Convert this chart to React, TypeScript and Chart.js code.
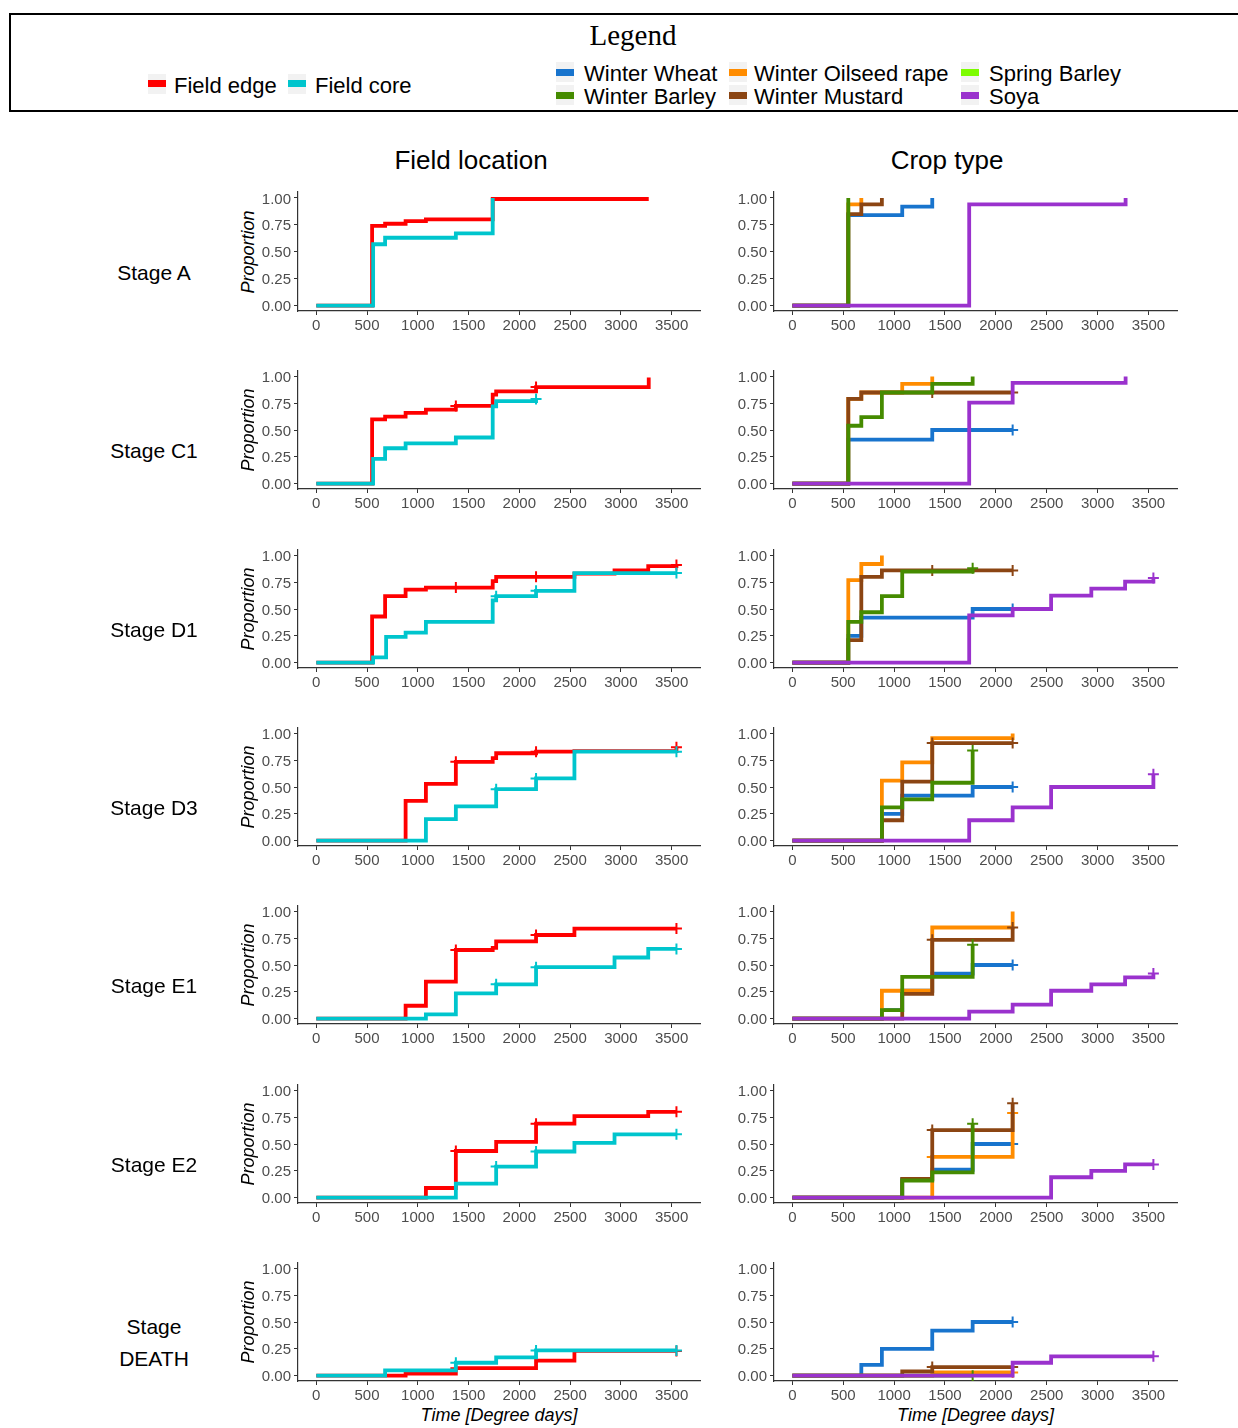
import React, { useEffect, useRef } from 'react';
import { Chart, registerables } from 'chart.js';
Chart.register(...registerables);

type Step = [number, number];

// ---------- axis ticks / labels ----------
const xTicks = [0, 500, 1000, 1500, 2000, 2500, 3000, 3500];
const yTicks = [0, 0.25, 0.5, 0.75, 1];
const stageNames = ['Stage A', 'Stage C1', 'Stage D1', 'Stage D3', 'Stage E1', 'Stage E2', 'Stage\nDEATH'];
const columnTitles = ['Field location', 'Crop type'];
const locationNames = ['Field edge', 'Field core'];
const locationColors = ['#FF0000', '#00C5CD'];
const cropLegendCol1 = ['Winter Wheat', 'Winter Barley'];
const cropLegendCol2 = ['Winter Oilseed rape', 'Winter Mustard'];
const cropLegendCol3 = ['Spring Barley', 'Soya'];
const cropColors: Record<string, string> = {
  'Winter Wheat': '#1874CD',
  'Winter Barley': '#458B00',
  'Winter Oilseed rape': '#FF8C00',
  'Winter Mustard': '#8B4513',
  'Spring Barley': '#7CFC00',
  'Soya': '#9A32CD',
};

// ---------- Stage A ----------
const A_edge: Step[] = [[0, 0], [550, 0.74], [678, 0.76], [880, 0.785], [1080, 0.8], [1738, 0.99], [3275, 0.99]];
const A_edge_cens: number[] = [];
const A_core: Step[] = [[0, 0], [560, 0.57], [678, 0.63], [1375, 0.67], [1738, 1.0]];
const A_core_cens: number[] = [];
const A_ww: Step[] = [[0, 0], [550, 0.84], [1080, 0.92], [1375, 1.0]];
const A_ww_cens: number[] = [];
const A_wb: Step[] = [[0, 0], [550, 1.0]];
const A_wb_cens: number[] = [];
const A_wor: Step[] = [[0, 0], [550, 0.94], [678, 1.0]];
const A_wor_cens: number[] = [];
const A_wm: Step[] = [[0, 0], [550, 0.85], [678, 0.94], [880, 1.0]];
const A_wm_cens: number[] = [];
const A_soya: Step[] = [[0, 0], [1738, 0.94], [3275, 1.0]];
const A_soya_cens: number[] = [];

// ---------- Stage C1 ----------
const C1_edge: Step[] = [[0, 0], [550, 0.6], [678, 0.625], [880, 0.66], [1080, 0.69], [1375, 0.725], [1738, 0.83], [1772, 0.86], [2165, 0.9], [3275, 0.99]];
const C1_edge_cens: number[] = [1375, 2165];
const C1_core: Step[] = [[0, 0], [560, 0.23], [678, 0.33], [880, 0.375], [1375, 0.43], [1738, 0.72], [1772, 0.77], [2165, 0.79]];
const C1_core_cens: number[] = [2165];
const C1_ww: Step[] = [[0, 0], [550, 0.41], [1375, 0.5], [2165, 0.5]];
const C1_ww_cens: number[] = [2165];
const C1_wb: Step[] = [[0, 0], [550, 0.54], [678, 0.62], [880, 0.85], [1375, 0.93], [1772, 1.0]];
const C1_wb_cens: number[] = [];
const C1_wor: Step[] = [[0, 0], [550, 0.79], [678, 0.85], [1080, 0.93], [1375, 1.0]];
const C1_wor_cens: number[] = [];
const C1_wm: Step[] = [[0, 0], [550, 0.79], [678, 0.85], [2165, 0.85]];
const C1_wm_cens: number[] = [1375, 2165];
const C1_soya: Step[] = [[0, 0], [1738, 0.755], [2165, 0.94], [3275, 1.0]];
const C1_soya_cens: number[] = [];

// ---------- Stage D1 ----------
const D1_edge: Step[] = [[0, 0], [550, 0.43], [678, 0.62], [880, 0.68], [1080, 0.7], [1738, 0.76], [1772, 0.8], [2543, 0.83], [2938, 0.86], [3270, 0.9], [3548, 0.91]];
const D1_edge_cens: number[] = [1375, 2165, 3548];
const D1_core: Step[] = [[0, 0], [560, 0.05], [688, 0.24], [880, 0.28], [1080, 0.38], [1738, 0.58], [1772, 0.62], [2165, 0.67], [2543, 0.835], [3548, 0.835]];
const D1_core_cens: number[] = [1772, 2165, 3548];
const D1_ww: Step[] = [[0, 0], [550, 0.25], [678, 0.42], [1772, 0.5], [2165, 0.5]];
const D1_ww_cens: number[] = [2165];
const D1_wb: Step[] = [[0, 0], [550, 0.38], [678, 0.47], [880, 0.62], [1080, 0.85], [1772, 0.88]];
const D1_wb_cens: number[] = [1772];
const D1_wor: Step[] = [[0, 0], [550, 0.77], [678, 0.92], [880, 1.0]];
const D1_wor_cens: number[] = [];
const D1_wm: Step[] = [[0, 0], [550, 0.21], [678, 0.8], [880, 0.86], [2165, 0.86]];
const D1_wm_cens: number[] = [1375, 2165];
const D1_soya: Step[] = [[0, 0], [1738, 0.44], [2165, 0.5], [2543, 0.625], [2938, 0.69], [3270, 0.755], [3548, 0.79]];
const D1_soya_cens: number[] = [3548];

// ---------- Stage D3 ----------
const D3_edge: Step[] = [[0, 0], [880, 0.37], [1080, 0.53], [1375, 0.735], [1738, 0.77], [1772, 0.815], [2165, 0.83], [2543, 0.835], [3548, 0.87]];
const D3_edge_cens: number[] = [1375, 2165, 3548];
const D3_core: Step[] = [[0, 0], [1080, 0.2], [1375, 0.32], [1772, 0.48], [2165, 0.58], [2543, 0.83], [3548, 0.83]];
const D3_core_cens: number[] = [1772, 2165, 3548];
const D3_ww: Step[] = [[0, 0], [880, 0.25], [1080, 0.42], [1772, 0.5], [2165, 0.5]];
const D3_ww_cens: number[] = [2165];
const D3_wb: Step[] = [[0, 0], [880, 0.31], [1080, 0.385], [1375, 0.54], [1772, 0.84]];
const D3_wb_cens: number[] = [1772];
const D3_wor: Step[] = [[0, 0], [880, 0.56], [1080, 0.73], [1375, 0.955], [2165, 1.0]];
const D3_wor_cens: number[] = [];
const D3_wm: Step[] = [[0, 0], [880, 0.19], [1080, 0.55], [1375, 0.91], [2165, 0.91]];
const D3_wm_cens: number[] = [1375, 2165];
const D3_soya: Step[] = [[0, 0], [1738, 0.19], [2165, 0.31], [2543, 0.5], [3548, 0.62]];
const D3_soya_cens: number[] = [3548];

// ---------- Stage E1 ----------
const E1_edge: Step[] = [[0, 0], [880, 0.12], [1080, 0.345], [1375, 0.64], [1738, 0.66], [1772, 0.72], [2165, 0.78], [2543, 0.84], [3548, 0.84]];
const E1_edge_cens: number[] = [1375, 2165, 3548];
const E1_core: Step[] = [[0, 0], [1080, 0.04], [1375, 0.235], [1772, 0.32], [2165, 0.48], [2938, 0.57], [3270, 0.65], [3548, 0.65]];
const E1_core_cens: number[] = [1772, 2165, 3548];
const E1_ww: Step[] = [[0, 0], [880, 0.08], [1080, 0.26], [1375, 0.42], [1772, 0.5], [2165, 0.5]];
const E1_ww_cens: number[] = [2165];
const E1_wb: Step[] = [[0, 0], [880, 0.08], [1080, 0.39], [1772, 0.69]];
const E1_wb_cens: number[] = [1772];
const E1_wor: Step[] = [[0, 0], [880, 0.26], [1375, 0.85], [2165, 1.0]];
const E1_wor_cens: number[] = [];
const E1_wm: Step[] = [[0, 0], [1080, 0.23], [1375, 0.735], [2165, 0.85]];
const E1_wm_cens: number[] = [1375, 2165];
const E1_soya: Step[] = [[0, 0], [1738, 0.065], [2165, 0.13], [2543, 0.26], [2938, 0.32], [3270, 0.385], [3548, 0.42]];
const E1_soya_cens: number[] = [3548];

// ---------- Stage E2 ----------
const E2_edge: Step[] = [[0, 0], [1080, 0.09], [1375, 0.435], [1772, 0.52], [2165, 0.69], [2543, 0.76], [3270, 0.8], [3548, 0.8]];
const E2_edge_cens: number[] = [1375, 2165, 3548];
const E2_core: Step[] = [[0, 0], [1375, 0.13], [1772, 0.29], [2165, 0.43], [2543, 0.51], [2938, 0.59], [3548, 0.59]];
const E2_core_cens: number[] = [1772, 2165, 3548];
const E2_ww: Step[] = [[0, 0], [1080, 0.17], [1375, 0.26], [1772, 0.5], [2165, 0.5]];
const E2_ww_cens: number[] = [2165];
const E2_wb: Step[] = [[0, 0], [1080, 0.16], [1375, 0.235], [1772, 0.69]];
const E2_wb_cens: number[] = [1772];
const E2_wor: Step[] = [[0, 0], [1375, 0.38], [2165, 0.79]];
const E2_wor_cens: number[] = [1375, 2165];
const E2_wm: Step[] = [[0, 0], [1080, 0.175], [1375, 0.63], [2165, 0.88]];
const E2_wm_cens: number[] = [1375, 2165];
const E2_soya: Step[] = [[0, 0], [2543, 0.19], [2938, 0.25], [3270, 0.31], [3548, 0.31]];
const E2_soya_cens: number[] = [3548];

// ---------- Stage DEATH ----------
const DE_edge: Step[] = [[0, 0], [880, 0.02], [1375, 0.07], [2165, 0.14], [2543, 0.23], [3548, 0.23]];
const DE_edge_cens: number[] = [1375, 3548];
const DE_core: Step[] = [[0, 0], [678, 0.05], [1375, 0.12], [1772, 0.17], [2165, 0.235], [3548, 0.235]];
const DE_core_cens: number[] = [1375, 2165, 3548];
const DE_ww: Step[] = [[0, 0], [678, 0.1], [880, 0.25], [1375, 0.42], [1772, 0.5], [2165, 0.5]];
const DE_ww_cens: number[] = [2165];
const DE_wb: Step[] = [[0, 0], [1772, 0]];
const DE_wb_cens: number[] = [1772];
const DE_wor: Step[] = [[0, 0], [1375, 0.03], [2165, 0.03]];
const DE_wor_cens: number[] = [2165];
const DE_wm: Step[] = [[0, 0], [1080, 0.04], [1375, 0.08], [2165, 0.08]];
const DE_wm_cens: number[] = [1375, 2165];
const DE_soya: Step[] = [[0, 0], [2165, 0.12], [2543, 0.18], [3548, 0.18]];
const DE_soya_cens: number[] = [3548];

// ---------- assembly ----------
type Series = { color: string; steps: Step[]; cens: number[] };
const loc = (e: Step[], ec: number[], c: Step[], cc: number[]): Series[] => [
  { color: locationColors[0], steps: e, cens: ec },
  { color: locationColors[1], steps: c, cens: cc },
];
// drawing order (bottom -> top): Winter Wheat, Winter Oilseed rape, Winter Mustard, Winter Barley, Soya
const crop = (ww: Step[], wwc: number[], wb: Step[], wbc: number[], wor: Step[], worc: number[], wm: Step[], wmc: number[], so: Step[], soc: number[]): Series[] => [
  { color: cropColors['Winter Wheat'], steps: ww, cens: wwc },
  { color: cropColors['Winter Oilseed rape'], steps: wor, cens: worc },
  { color: cropColors['Winter Mustard'], steps: wm, cens: wmc },
  { color: cropColors['Winter Barley'], steps: wb, cens: wbc },
  { color: cropColors['Soya'], steps: so, cens: soc },
];

const locationPanels: Series[][] = [
  loc(A_edge, A_edge_cens, A_core, A_core_cens),
  loc(C1_edge, C1_edge_cens, C1_core, C1_core_cens),
  loc(D1_edge, D1_edge_cens, D1_core, D1_core_cens),
  loc(D3_edge, D3_edge_cens, D3_core, D3_core_cens),
  loc(E1_edge, E1_edge_cens, E1_core, E1_core_cens),
  loc(E2_edge, E2_edge_cens, E2_core, E2_core_cens),
  loc(DE_edge, DE_edge_cens, DE_core, DE_core_cens),
];
const cropPanels: Series[][] = [
  crop(A_ww, A_ww_cens, A_wb, A_wb_cens, A_wor, A_wor_cens, A_wm, A_wm_cens, A_soya, A_soya_cens),
  crop(C1_ww, C1_ww_cens, C1_wb, C1_wb_cens, C1_wor, C1_wor_cens, C1_wm, C1_wm_cens, C1_soya, C1_soya_cens),
  crop(D1_ww, D1_ww_cens, D1_wb, D1_wb_cens, D1_wor, D1_wor_cens, D1_wm, D1_wm_cens, D1_soya, D1_soya_cens),
  crop(D3_ww, D3_ww_cens, D3_wb, D3_wb_cens, D3_wor, D3_wor_cens, D3_wm, D3_wm_cens, D3_soya, D3_soya_cens),
  crop(E1_ww, E1_ww_cens, E1_wb, E1_wb_cens, E1_wor, E1_wor_cens, E1_wm, E1_wm_cens, E1_soya, E1_soya_cens),
  crop(E2_ww, E2_ww_cens, E2_wb, E2_wb_cens, E2_wor, E2_wor_cens, E2_wm, E2_wm_cens, E2_soya, E2_soya_cens),
  crop(DE_ww, DE_ww_cens, DE_wb, DE_wb_cens, DE_wor, DE_wor_cens, DE_wm, DE_wm_cens, DE_soya, DE_soya_cens),
];

const SANS = "'Liberation Sans', Arial, Helvetica, sans-serif";
const SERIF = "'Liberation Serif', 'Times New Roman', serif";

function valueAt(steps: Step[], t: number): number {
  let v = 0;
  for (const [x, y] of steps) if (x <= t) v = y;
  return v;
}

const PANEL_H = 150;

function Panel({ series, left, top, width, yAxisWidth }: { series: Series[]; left: number; top: number; width: number; yAxisWidth: number }) {
  const ref = useRef<HTMLCanvasElement>(null);
  useEffect(() => {
    const n = series.length;
    const datasets: any[] = [];
    series.forEach((s, i) => {
      datasets.push({
        type: 'line',
        data: s.steps.map(([x, y]) => ({ x, y })),
        borderColor: s.color,
        borderWidth: 3.8,
        stepped: true,
        pointRadius: 0,
        fill: false,
        order: 2 * (n - i),
      });
      if (s.cens.length) {
        datasets.push({
          type: 'line',
          data: s.cens.map((t) => ({ x: t, y: valueAt(s.steps, t) })),
          showLine: false,
          pointStyle: 'cross',
          pointRadius: 5.5,
          pointBorderWidth: 2,
          borderColor: s.color,
          backgroundColor: s.color,
          order: 2 * (n - i) - 1,
        });
      }
    });
    const tickFont = { family: SANS, size: 15 };
    const chart = new Chart(ref.current as HTMLCanvasElement, {
      type: 'line',
      data: { datasets },
      options: {
        animation: false,
        responsive: false,
        devicePixelRatio: 1,
        events: [],
        layout: { padding: { top: 7, right: 10, left: 0, bottom: 0 } },
        plugins: { legend: { display: false }, tooltip: { enabled: false } },
        scales: {
          x: {
            type: 'linear',
            min: -180,
            max: 3780,
            afterBuildTicks: (s: any) => { s.ticks = xTicks.map((v) => ({ value: v })); },
            afterFit: (s: any) => { s.height = PANEL_H - 7 - 119; s.paddingLeft = 0; s.paddingRight = 0; },
            grid: { drawOnChartArea: false, drawTicks: true, tickLength: 4, color: '#333333', lineWidth: 1 },
            border: { display: true, color: '#333333', width: 1.2 },
            ticks: { font: tickFont, color: '#4D4D4D', padding: 2, maxRotation: 0, autoSkip: false, callback: (v: any) => String(v) },
          },
          y: {
            type: 'linear',
            min: -0.05,
            max: 1.055,
            afterBuildTicks: (s: any) => { s.ticks = yTicks.map((v) => ({ value: v })); },
            afterFit: (s: any) => { s.width = yAxisWidth; s.paddingTop = 0; s.paddingBottom = 0; },
            grid: { drawOnChartArea: false, drawTicks: true, tickLength: 4, color: '#333333', lineWidth: 1 },
            border: { display: true, color: '#333333', width: 1.2 },
            ticks: { font: tickFont, color: '#4D4D4D', padding: 3, labelOffset: 1.5, autoSkip: false, callback: (v: any) => Number(v).toFixed(2) },
          },
        },
      } as any,
    });
    return () => chart.destroy();
  }, []);
  return (
    <canvas
      ref={ref}
      width={width}
      height={PANEL_H}
      style={{ position: 'absolute', left, top, width, height: PANEL_H }}
    />
  );
}

function Key({ x, y, color }: { x: number; y: number; color: string }) {
  return (
    <div style={{ position: 'absolute', left: x, top: y - 10, width: 18, height: 20, background: '#F2F2F2' }}>
      <div style={{ position: 'absolute', left: 0, top: 6.5, width: 18, height: 7, background: color }} />
    </div>
  );
}

function Txt({ x, y, text, size, align = 'left', italic = false, family = SANS, rotate = false }: any) {
  const w = 400;
  let left = x;
  if (align === 'center') left = x - w / 2;
  const style: any = {
    position: 'absolute',
    left,
    top: y - size / 2,
    width: w,
    height: size,
    lineHeight: size + 'px',
    fontSize: size,
    fontFamily: family,
    fontStyle: italic ? 'italic' : 'normal',
    textAlign: align,
    whiteSpace: 'pre',
    color: '#000',
  };
  if (rotate) {
    style.left = x - w / 2;
    style.textAlign = 'center';
    style.transform = 'rotate(-90deg)';
    style.transformOrigin = '50% 50%';
  }
  return <div style={style}>{text}</div>;
}

export default function App() {
  const rowTop = (r: number) => Math.round(185 + r * 178.3);
  const leftX = 230;
  const rightX = 720;
  return (
    <div style={{ position: 'absolute', left: 0, top: 0, width: 1238, height: 1428, overflow: 'hidden', background: '#fff', fontFamily: SANS }}>
      {/* legend box */}
      <div style={{ position: 'absolute', left: 9, top: 13, width: 1240, height: 99, borderTop: '2px solid #000', borderLeft: '2px solid #000', borderBottom: '2px solid #000', boxSizing: 'border-box', overflow: 'hidden' }}>
        <div style={{ position: 'absolute', left: -11, top: -15, width: 1238, height: 112 }}>
          <Txt x={633} y={35.5} text="Legend" size={29} align="center" family={SERIF} />
          <Key x={148} y={83.5} color={locationColors[0]} />
          <Txt x={174} y={85.5} text={locationNames[0]} size={22} />
          <Key x={288} y={83.5} color={locationColors[1]} />
          <Txt x={315} y={85.5} text={locationNames[1]} size={22} />
          {[cropLegendCol1, cropLegendCol2, cropLegendCol3].map((col, ci) =>
            col.map((name, ri) => {
              const kx = [556, 729, 961][ci];
              const tx = [584, 754, 989][ci];
              const ky = ri === 0 ? 72 : 95;
              const ty = ri === 0 ? 74 : 97;
              return (
                <React.Fragment key={name}>
                  <Key x={kx} y={ky} color={cropColors[name]} />
                  <Txt x={tx} y={ty} text={name} size={22} />
                </React.Fragment>
              );
            })
          )}
        </div>
      </div>

      {/* column titles */}
      <Txt x={471} y={160} text={columnTitles[0]} size={26} align="center" />
      <Txt x={947} y={160} text={columnTitles[1]} size={26} align="center" />

      {stageNames.map((name, r) => {
        const top = rowTop(r);
        const multi = name.includes('\n');
        return (
          <React.Fragment key={name}>
            {multi ? (
              <div style={{ position: 'absolute', left: 94, top: top + 88 - 32, width: 120, height: 64, lineHeight: '32px', fontSize: 21, textAlign: 'center', whiteSpace: 'pre', fontFamily: SANS }}>{name}</div>
            ) : (
              <Txt x={154} y={top + 87} text={name} size={21} align="center" />
            )}
            <Txt x={248} y={top + 7 + 59.5} text="Proportion" size={18} italic rotate />
            <Panel series={locationPanels[r]} left={leftX} top={top} width={480} yAxisWidth={68} />
            <Panel series={cropPanels[r]} left={rightX} top={top} width={467} yAxisWidth={54} />
          </React.Fragment>
        );
      })}

      <Txt x={499} y={1415} text="Time [Degree days]" size={18} align="center" italic />
      <Txt x={975.5} y={1415} text="Time [Degree days]" size={18} align="center" italic />
    </div>
  );
}
